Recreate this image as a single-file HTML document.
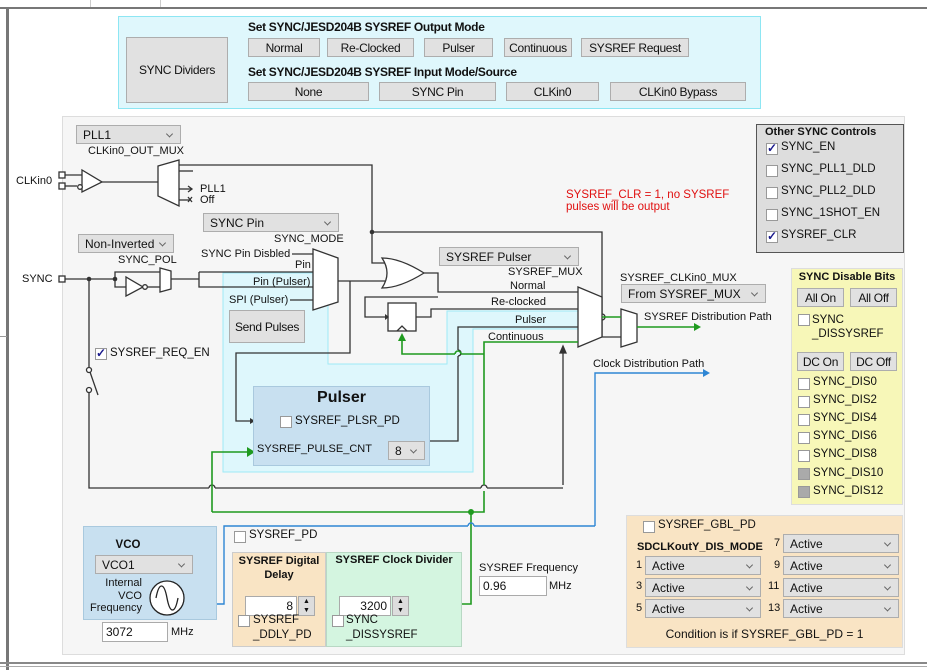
<!DOCTYPE html>
<html><head><meta charset="utf-8">
<style>
*{box-sizing:border-box;margin:0;padding:0}
body{width:927px;height:670px;position:relative;background:#fff;font-family:"Liberation Sans",sans-serif;font-size:11.5px;color:#111;overflow:hidden}
.a{position:absolute;white-space:nowrap}
.s{font-size:11px}
.btn{position:absolute;background:#e1e1e1;border:1px solid #adadad;display:flex;align-items:center;justify-content:center;font-size:12px;letter-spacing:-0.3px}
.dd{position:absolute;background:#e1e1e1;border:1px solid #adadad;padding-left:6px;display:flex;align-items:center;font-size:12px}
.dd:after{content:"";position:absolute;right:8px;top:50%;width:4px;height:4px;border-right:1px solid #666;border-bottom:1px solid #666;transform:translateY(-70%) rotate(45deg)}
.cb{position:absolute;width:12px;height:12px;background:#fff;border:1px solid #999}
.cb.k:after{content:"✓";position:absolute;left:0px;top:-3px;color:#1a1a8c;font-weight:bold;font-size:12px}
.cb.g{background:#aaa;border-color:#999}
.inp{position:absolute;background:#fff;border:1px solid #aaa;padding-left:3px;font-size:12px;display:flex;align-items:center}
.b{font-weight:bold}
</style></head><body>
<div class="a" style="left:0;top:0;width:927px;height:9px;background:#fff;border-bottom:2px solid #777"></div>
<div class="a" style="left:90px;top:0;width:1px;height:7px;background:#ccc"></div>
<div class="a" style="left:160px;top:0;width:1px;height:7px;background:#ccc"></div>
<div class="a" style="left:6px;top:9px;width:3px;height:661px;background:#777"></div>
<div class="a" style="left:0;top:336px;width:7px;height:1px;background:#999"></div>
<div class="a" style="left:0;top:662px;width:927px;height:2px;background:#888"></div>
<div class="a" style="left:0;top:666px;width:927px;height:1px;background:#aaa"></div>

<div class="a" style="left:118px;top:16px;width:643px;height:93px;background:#dff7fc;border:1px solid #8de6f3"></div>
<div class="btn" style="left:126px;top:37px;width:102px;height:66px">SYNC Dividers</div>
<div class="a b" style="left:248px;top:20px;font-size:12px;letter-spacing:-0.3px">Set SYNC/JESD204B SYSREF Output Mode</div>
<div class="btn" style="left:248px;top:38px;width:72px;height:19px">Normal</div>
<div class="btn" style="left:327px;top:38px;width:87px;height:19px">Re-Clocked</div>
<div class="btn" style="left:424px;top:38px;width:69px;height:19px">Pulser</div>
<div class="btn" style="left:504px;top:38px;width:68px;height:19px">Continuous</div>
<div class="btn" style="left:581px;top:38px;width:108px;height:19px">SYSREF Request</div>
<div class="a b" style="left:248px;top:65px;font-size:12px;letter-spacing:-0.3px">Set SYNC/JESD204B SYSREF Input Mode/Source</div>
<div class="btn" style="left:248px;top:82px;width:121px;height:19px">None</div>
<div class="btn" style="left:379px;top:82px;width:117px;height:19px">SYNC Pin</div>
<div class="btn" style="left:506px;top:82px;width:93px;height:19px">CLKin0</div>
<div class="btn" style="left:610px;top:82px;width:136px;height:19px">CLKin0 Bypass</div>

<div class="a" style="left:62px;top:116px;width:843px;height:539px;background:#f6f6f6;border:1px solid #ddd"></div>

<svg class="a" style="left:0;top:0" width="927" height="670" viewBox="0 0 927 670">
<polygon points="223,273 328,273 328,364 447,364 447,311 578,311 578,329 473,329 473,472 223,472" fill="#def7fc" stroke="#9feaf6"/>
<g stroke="#333" stroke-width="1.3" fill="none">
<rect x="59" y="172" width="6" height="6" fill="#fff"/><rect x="59" y="183" width="6" height="6" fill="#fff"/>
<line x1="65" y1="175" x2="82" y2="175"/><line x1="65" y1="186" x2="77" y2="186"/>
<polygon points="82,170 82,192 102,182" fill="#fff"/><circle cx="80" cy="187" r="2.3" fill="#fff"/>
<line x1="102" y1="182" x2="158" y2="182"/>
<polygon points="158,166 179,160 179,206 158,196" fill="#fff"/>
<line x1="179" y1="171" x2="193" y2="171"/>
<line x1="179" y1="189" x2="192" y2="189"/><polyline points="188,186 192,189 188,192"/>
<line x1="179" y1="200" x2="191" y2="200"/><path d="M188,197 l4,5 M192,197 l-4,5"/>
<polyline points="179,165 372,165 372,263 388,263"/>
<polyline points="372,232 602,232 602,314"/><path d="M602,314 a3,3 0 0 1 0,6"/><polyline points="602,320 602,337 621,337"/>
<rect x="59" y="276" width="6" height="6" fill="#fff"/>
<line x1="65" y1="279" x2="115" y2="279"/>
<polyline points="115,279 115,272 160,272"/><polyline points="115,279 115,287 126,287"/>
<polygon points="126,277 126,296 143,287" fill="#fff"/><circle cx="145" cy="287" r="2.3" fill="#fff"/>
<line x1="147" y1="287" x2="160" y2="287"/>
<polygon points="160,268 171,271 171,289 160,292" fill="#fff"/>
<polyline points="171,279 199,279"/>
<polyline points="199,272 313,272"/><polyline points="199,272 199,287 313,287"/>
<line x1="292" y1="254" x2="313" y2="254"/><line x1="290" y1="300" x2="313" y2="300"/>
<polygon points="313,249 338,258 338,302 313,310" fill="#fff"/>
<polyline points="338,281 385,281"/>
<polyline points="350,281 350,353 236,353 236,421 250,421"/>
<path d="M382,258 Q400,258 424,273 Q400,288 382,288 Q392,273 382,258 Z" fill="#fff"/>
<polyline points="424,273 438,273 438,292 578,292"/>
<polyline points="438,297 365,297 365,317 385,317"/>
<rect x="388" y="303" width="28" height="28" fill="#fff"/>
<polyline points="397,331 402,326 407,331"/>
<polyline points="416,317 431,317 431,309 578,309"/>
<polyline points="425,441 458,441 458,356"/><path d="M458,356 a3,3 0 0 0 0,-6"/><polyline points="458,350 458,327 578,327"/>
<polygon points="578,287 602,297 602,337 578,347" fill="#fff"/>
<polyline points="563,485 563,350"/>
<polygon points="560,353 563,346 566,353" fill="#333"/>
<polygon points="621,309 637,314 637,342 621,347" fill="#fff"/>
<line x1="89" y1="279" x2="89" y2="367"/><circle cx="89" cy="370" r="2.5" fill="#fff"/><circle cx="89" cy="390" r="2.5" fill="#fff"/>
<line x1="90" y1="372" x2="98" y2="395"/>
<polyline points="89,392 89,488 209,488"/><path d="M209,488 a3,3 0 0 1 6,0"/><polyline points="215,488 481,488"/><path d="M481,488 a3,3 0 0 1 6,0"/><polyline points="487,488 563,488"/>
</g>
<g fill="#333"><circle cx="89" cy="279" r="2.3"/><circle cx="115" cy="279" r="2.3"/><circle cx="372" cy="232" r="2.3"/>
<polygon points="250,418 250,424 255,421"/><polygon points="385,314 385,320 389,317"/></g>
<g stroke="#1f9a1f" stroke-width="1.6" fill="none">
<polyline points="602,317 621,317"/>
<polyline points="637,327 694,327"/>
<polyline points="484,485 484,342 578,342"/>
<polyline points="402,339 402,354 455,354"/><path d="M455,354 a3,3 0 0 1 6,0"/><polyline points="461,354 484,354"/>
<polyline points="462,604 471,604 471,512"/>
<polyline points="212,512 484,512 484,491"/>
<polyline points="212,512 212,452 248,452"/>
</g>
<g fill="#1f9a1f"><polygon points="694,323 701,327 694,331"/><polygon points="398,341 402,333 406,341"/><polygon points="247,447 255,452 247,457"/><circle cx="471" cy="512" r="3"/></g>
<g stroke="#2e86d4" stroke-width="1.4" fill="none">
<polyline points="595,526 595,373 704,373"/>
<polyline points="595,526 474,526"/><path d="M474,526 a3,3 0 0 0 -6,0"/><polyline points="468,526 224,526 224,604 217,604"/>
</g>
<polygon points="703,369 710,373 703,377" fill="#2e86d4"/>
</svg>

<div class="dd" style="left:76px;top:125px;width:105px;height:19px">PLL1</div>
<div class="a s" style="left:88px;top:145px">CLKin0_OUT_MUX</div>
<div class="a s" style="left:16px;top:175px">CLKin0</div>
<div class="a s" style="left:200px;top:183px">PLL1</div>
<div class="a s" style="left:200px;top:194px">Off</div>
<div class="dd" style="left:203px;top:213px;width:136px;height:19px">SYNC Pin</div>
<div class="a s" style="left:274px;top:233px">SYNC_MODE</div>
<div class="dd" style="left:78px;top:234px;width:96px;height:19px">Non-Inverted</div>
<div class="a s" style="left:118px;top:254px">SYNC_POL</div>
<div class="a s" style="left:22px;top:273px">SYNC</div>
<div class="a s" style="left:201px;top:248px">SYNC Pin Disbled</div>
<div class="a s" style="left:295px;top:259px">Pin</div>
<div class="a s" style="left:253px;top:276px">Pin (Pulser)</div>
<div class="a s" style="left:229px;top:294px">SPI (Pulser)</div>
<div class="btn" style="left:229px;top:310px;width:76px;height:33px">Send Pulses</div>
<div class="cb k" style="left:95px;top:348px"></div>
<div class="a" style="left:110px;top:347px">SYSREF_REQ_EN</div>

<div class="a" style="left:253px;top:386px;width:177px;height:80px;background:#c8e0f0;border:1px solid #a9c9de"></div>
<div class="a b" style="left:253px;top:389px;width:177px;text-align:center;font-size:16px">Pulser</div>
<div class="cb" style="left:280px;top:416px"></div>
<div class="a" style="left:295px;top:415px">SYSREF_PLSR_PD</div>
<div class="a s" style="left:257px;top:443px">SYSREF_PULSE_CNT</div>
<div class="dd" style="left:388px;top:441px;width:37px;height:19px">8</div>

<div class="dd" style="left:439px;top:247px;width:140px;height:19px">SYSREF Pulser</div>
<div class="a s" style="left:508px;top:266px">SYSREF_MUX</div>
<div class="a s" style="left:510px;top:280px">Normal</div>
<div class="a s" style="left:491px;top:296px">Re-clocked</div>
<div class="a s" style="left:515px;top:314px">Pulser</div>
<div class="a s" style="left:488px;top:331px">Continuous</div>
<div class="a s" style="left:620px;top:272px">SYSREF_CLKin0_MUX</div>
<div class="dd" style="left:621px;top:284px;width:145px;height:19px">From SYSREF_MUX</div>
<div class="a s" style="left:644px;top:311px">SYSREF Distribution Path</div>
<div class="a s" style="left:593px;top:358px">Clock Distribution Path</div>
<div class="a" style="left:566px;top:189px;color:#e01010">SYSREF_CLR = 1, no SYSREF<br>pulses will be output</div>

<div class="a" style="left:756px;top:124px;width:148px;height:129px;background:#ddd;border:1px solid #555"></div>
<div class="a b" style="left:765px;top:126px;font-size:11px">Other SYNC Controls</div>
<div class="cb k" style="left:766px;top:143px"></div><div class="a" style="left:781px;top:141px">SYNC_EN</div>
<div class="cb" style="left:766px;top:165px"></div><div class="a" style="left:781px;top:163px">SYNC_PLL1_DLD</div>
<div class="cb" style="left:766px;top:187px"></div><div class="a" style="left:781px;top:185px">SYNC_PLL2_DLD</div>
<div class="cb" style="left:766px;top:209px"></div><div class="a" style="left:781px;top:207px">SYNC_1SHOT_EN</div>
<div class="cb k" style="left:766px;top:231px"></div><div class="a" style="left:781px;top:229px">SYSREF_CLR</div>

<div class="a" style="left:791px;top:268px;width:112px;height:237px;background:#f7f7b8;border:1px solid #ddd"></div>
<div class="a b" style="left:791px;top:271px;width:112px;text-align:center;font-size:11px">SYNC Disable Bits</div>
<div class="btn" style="left:797px;top:288px;width:47px;height:19px">All On</div>
<div class="btn" style="left:850px;top:288px;width:47px;height:19px">All Off</div>
<div class="cb" style="left:798px;top:314px"></div><div class="a" style="left:812px;top:313px;line-height:14px">SYNC<br>_DISSYSREF</div>
<div class="btn" style="left:797px;top:352px;width:47px;height:19px">DC On</div>
<div class="btn" style="left:850px;top:352px;width:47px;height:19px">DC Off</div>
<div class="cb" style="left:798px;top:378px"></div><div class="a" style="left:813px;top:376px">SYNC_DIS0</div>
<div class="cb" style="left:798px;top:396px"></div><div class="a" style="left:813px;top:394px">SYNC_DIS2</div>
<div class="cb" style="left:798px;top:414px"></div><div class="a" style="left:813px;top:412px">SYNC_DIS4</div>
<div class="cb" style="left:798px;top:432px"></div><div class="a" style="left:813px;top:430px">SYNC_DIS6</div>
<div class="cb" style="left:798px;top:450px"></div><div class="a" style="left:813px;top:448px">SYNC_DIS8</div>
<div class="cb g" style="left:798px;top:468px"></div><div class="a" style="left:813px;top:467px">SYNC_DIS10</div>
<div class="cb g" style="left:798px;top:486px"></div><div class="a" style="left:813px;top:485px">SYNC_DIS12</div>

<div class="a" style="left:626px;top:515px;width:277px;height:133px;background:#f9e4c4;border:1px solid #ddd"></div>
<div class="cb" style="left:643px;top:521px"></div><div class="a" style="left:658px;top:519px">SYSREF_GBL_PD</div>
<div class="a b" style="left:637px;top:541px;font-size:11px">SDCLKoutY_DIS_MODE</div>
<div class="a" style="left:774px;top:537px;font-size:11px">7</div><div class="dd" style="left:783px;top:534px;width:116px;height:19px">Active</div>
<div class="a" style="left:636px;top:559px;font-size:11px">1</div><div class="dd" style="left:645px;top:556px;width:116px;height:19px">Active</div>
<div class="a" style="left:774px;top:559px;font-size:11px">9</div><div class="dd" style="left:783px;top:556px;width:116px;height:19px">Active</div>
<div class="a" style="left:636px;top:580px;font-size:11px">3</div><div class="dd" style="left:645px;top:578px;width:116px;height:19px">Active</div>
<div class="a" style="left:768px;top:580px;font-size:11px">11</div><div class="dd" style="left:783px;top:578px;width:116px;height:19px">Active</div>
<div class="a" style="left:636px;top:602px;font-size:11px">5</div><div class="dd" style="left:645px;top:599px;width:116px;height:19px">Active</div>
<div class="a" style="left:768px;top:602px;font-size:11px">13</div><div class="dd" style="left:783px;top:599px;width:116px;height:19px">Active</div>
<div class="a" style="left:626px;top:627px;width:277px;text-align:center;font-size:12px">Condition is if SYSREF_GBL_PD = 1</div>

<div class="a" style="left:83px;top:526px;width:134px;height:94px;background:#c8e0f0;border:1px solid #a9c9de"></div>
<div class="a b" style="left:83px;top:539px;width:90px;text-align:center">VCO</div>
<div class="dd" style="left:95px;top:555px;width:98px;height:19px">VCO1</div>
<div class="a" style="left:85px;top:577px;width:57px;text-align:right;font-size:11px;line-height:12.5px">Internal<br>VCO<br>Frequency</div>
<svg class="a" style="left:148px;top:580px" width="38" height="38"><circle cx="19" cy="18" r="17" fill="#fff" stroke="#222" stroke-width="1.3"/><path d="M8,18 C11,2 16,2 19,18 C22,34 27,34 30,18" fill="none" stroke="#222" stroke-width="1.3"/></svg>
<div class="inp" style="left:102px;top:622px;width:66px;height:20px">3072</div>
<div class="a" style="left:171px;top:626px;font-size:11px">MHz</div>

<div class="cb" style="left:234px;top:531px"></div><div class="a" style="left:249px;top:529px">SYSREF_PD</div>
<div class="a" style="left:232px;top:552px;width:94px;height:95px;background:#f9e4c4;border:1px solid #ccc"></div>
<div class="a b" style="left:232px;top:554px;width:94px;text-align:center;font-size:11px;line-height:14px">SYSREF Digital<br>Delay</div>
<div class="inp" style="left:245px;top:596px;width:52px;height:20px;justify-content:flex-end;padding-right:3px">8</div>
<div class="a" style="left:298px;top:596px;width:17px;height:20px;background:#ddd;border:1px solid #aaa;font-size:7px;text-align:center;line-height:9px">▲<br>▼</div>
<div class="cb" style="left:238px;top:615px"></div><div class="a" style="left:253px;top:613px;line-height:15px">SYSREF<br>_DDLY_PD</div>

<div class="a" style="left:326px;top:552px;width:136px;height:95px;background:#d4f5e0;border:1px solid #b8d8c4"></div>
<div class="a b" style="left:326px;top:554px;width:136px;text-align:center;font-size:11px">SYSREF Clock Divider</div>
<div class="inp" style="left:339px;top:596px;width:52px;height:20px;justify-content:flex-end;padding-right:3px">3200</div>
<div class="a" style="left:392px;top:596px;width:17px;height:20px;background:#ddd;border:1px solid #aaa;font-size:7px;text-align:center;line-height:9px">▲<br>▼</div>
<div class="cb" style="left:332px;top:615px"></div><div class="a" style="left:346px;top:613px;line-height:15px">SYNC<br>_DISSYSREF</div>

<div class="a" style="left:479px;top:562px;font-size:11px">SYSREF Frequency</div>
<div class="inp" style="left:479px;top:576px;width:68px;height:20px">0.96</div>
<div class="a" style="left:549px;top:580px;font-size:11px">MHz</div>
</body></html>
